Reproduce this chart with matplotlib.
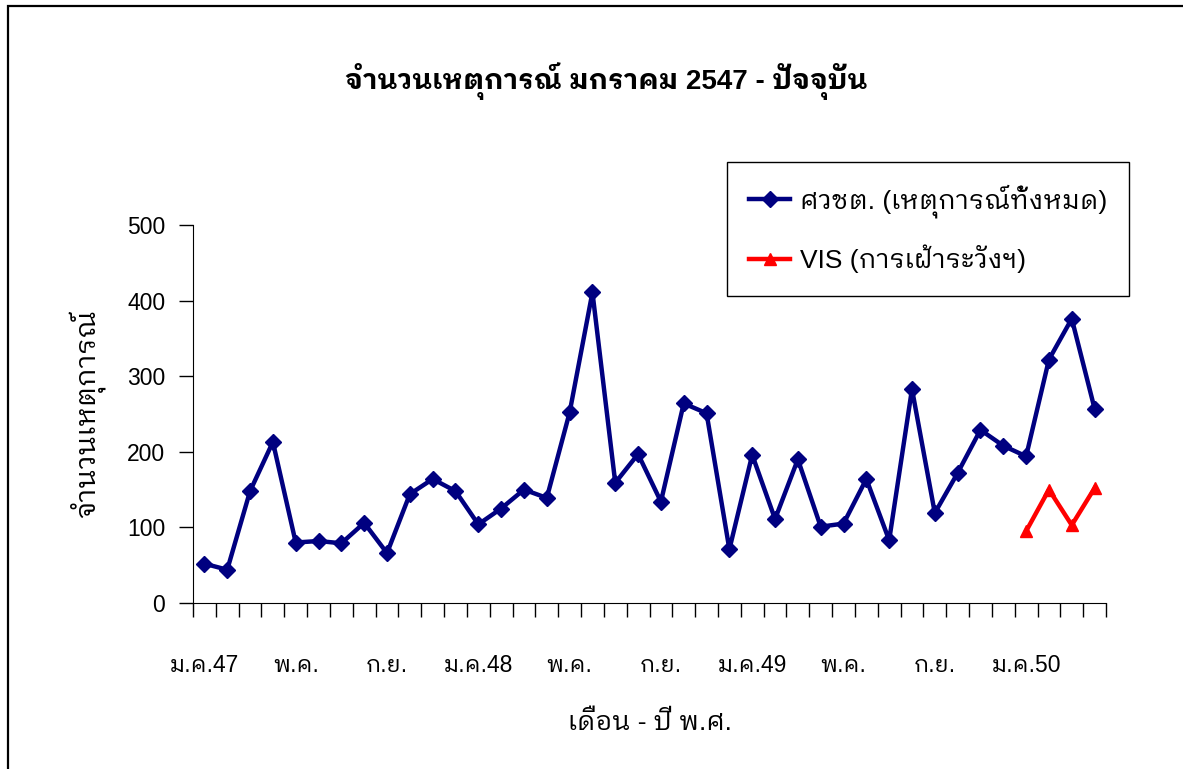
import matplotlib
matplotlib.use("Agg")
import matplotlib.pyplot as plt
from matplotlib.patches import Rectangle
import numpy as np

plt.rcParams['font.family'] = ['Liberation Sans', 'IBM Plex Sans Thai Looped', 'DejaVu Sans']

# ข้อมูลรายเดือน ม.ค.47 - เม.ย.50 (40 เดือน)
months = list(range(40))
all_events = [52, 44, 148, 213, 80, 82, 79, 106, 66, 144,
              164, 148, 104, 125, 150, 139, 252, 411, 159, 197,
              134, 264, 251, 71, 196, 111, 190, 101, 105, 164,
              83, 283, 119, 172, 229, 208, 194, 322, 376, 257]
vis_months = [36, 37, 38, 39]
vis_events = [95, 150, 103, 152]
tick_pos = [0, 4, 8, 12, 16, 20, 24, 28, 32, 36]
tick_labels = ['ม.ค.47', 'พ.ค.', 'ก.ย.', 'ม.ค.48', 'พ.ค.', 'ก.ย.',
               'ม.ค.49', 'พ.ค.', 'ก.ย.', 'ม.ค.50']

W, H = 1183, 769
fig = plt.figure(figsize=(W / 100, H / 100), dpi=100)

# กรอบรอบแผนภูมิ (ขวาและล่างเลยขอบภาพ)
fig.patches.append(Rectangle((8 / W, -0.1), 1.2, 1 - 6 / H + 0.1, transform=fig.transFigure,
                             fill=False, edgecolor='black', linewidth=1.6))

ax = fig.add_axes([193 / W, 1 - 603 / H, (1106 - 193) / W, (603 - 225) / H])
ax.plot(months, all_events, color='#000080', linewidth=3.2, marker='D', markersize=8,
        label='ศวชต. (เหตุการณ์ทั้งหมด)')
ax.plot(vis_months, vis_events, color='#FF0000', linewidth=3.2, marker='^', markersize=9,
        label='VIS (การเฝ้าระวังฯ)')

ax.set_xlim(-0.5, 39.5)
ax.set_ylim(0, 500)
ax.set_yticks([0, 100, 200, 300, 400, 500])
ax.tick_params(axis='y', direction='out', length=10, width=1, pad=10, labelsize=16.5)
ax.set_xticks(tick_pos)
ax.set_xticklabels(tick_labels)
ax.set_xticks(np.arange(-0.5, 40, 1), minor=True)
ax.tick_params(axis='x', which='major', length=0, pad=37, labelsize=16.5)
ax.tick_params(axis='x', which='minor', direction='out', length=10, width=1)
for s in ['top', 'right']:
    ax.spines[s].set_visible(False)

ax.set_ylabel('จำนวนเหตุการณ์', fontsize=20, labelpad=16)
ax.set_xlabel('เดือน - ปี พ.ศ.', fontsize=19, labelpad=24)
fig.text(606 / W, 1 - 81 / H, 'จำนวนเหตุการณ์ มกราคม 2547 - ปัจจุบัน',
         ha='center', va='center', fontsize=20, fontweight='bold')

leg = ax.legend(loc='upper left', bbox_to_anchor=(727 / W, 1 - 162 / H),
                bbox_transform=fig.transFigure, fontsize=19, frameon=True, fancybox=False,
                framealpha=1, edgecolor='black', handlelength=1.55, handletextpad=0.35,
                labelspacing=1.0, borderpad=0.85, borderaxespad=0)
leg.get_frame().set_linewidth(1)

fig.savefig('out.png', dpi=100)
